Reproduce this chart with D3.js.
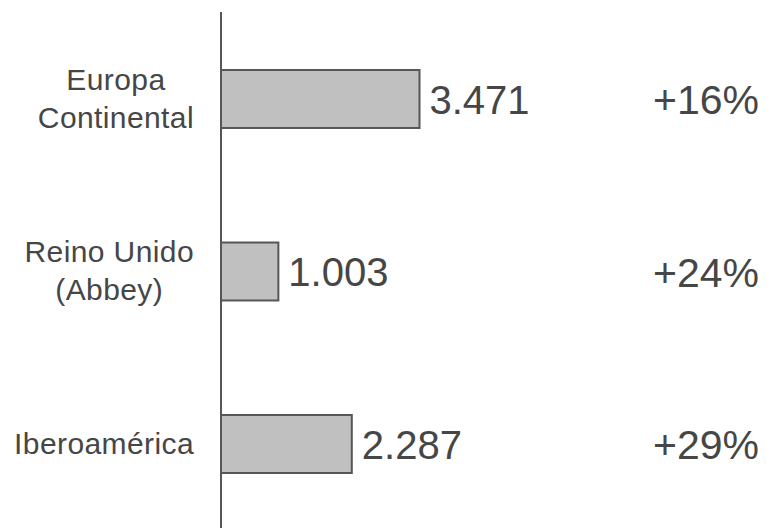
<!DOCTYPE html>
<html>
<head>
<meta charset="utf-8">
<script src="https://cdn.jsdelivr.net/npm/d3@7"></script>
<style>
  html, body { margin: 0; padding: 0; background: #fff; }
  svg { display: block; }
  text { font-family: "Liberation Sans", Arial, sans-serif; fill: #464646; }
</style>
</head>
<body>
<svg id="chart" width="767" height="528"></svg>
<script>
// Regions (label lines), results in millions and year-on-year growth
const regions = [["Europa", "Continental"], ["Reino Unido", "(Abbey)"], ["Iberoamérica"]];
const results = [3471, 1003, 2287];
const growth = [16, 24, 29];

const svg = d3.select("#chart");
const W = 767, H = 528;

const esLocale = d3.formatLocale({ decimal: ",", thousands: ".", grouping: [3], currency: ["", "€"] });
const fmtValue = esLocale.format(",d");
const fmtGrowth = d => d3.format("+d")(d) + "%";

const x = d3.scaleLinear().domain([0, 3471]).range([221, 419.5]);
const y = d3.scaleBand()
  .domain(d3.range(regions.length))
  .range([12.75, 530.25])
  .paddingInner(0.664)
  .paddingOuter(0.332);

// Bars
svg.append("g").selectAll("rect")
  .data(results)
  .join("rect")
  .attr("x", x(0))
  .attr("y", (d, i) => y(i))
  .attr("width", d => x(d) - x(0))
  .attr("height", y.bandwidth())
  .attr("fill", "#c0c0c0")
  .attr("stroke", "#565656")
  .attr("stroke-width", 2);

// Vertical baseline
svg.append("line")
  .attr("x1", x(0)).attr("x2", x(0))
  .attr("y1", 12).attr("y2", H)
  .attr("stroke", "#565656")
  .attr("stroke-width", 2);

// Value labels at bar ends
svg.append("g").selectAll("text")
  .data(results)
  .join("text")
  .attr("x", d => x(d) + 10)
  .attr("y", (d, i) => y(i) + y.bandwidth() / 2 + 14.5)
  .attr("font-size", 40)
  .text(d => fmtValue(d));

// Growth labels
svg.append("g").selectAll("text")
  .data(growth)
  .join("text")
  .attr("x", 653)
  .attr("y", (d, i) => y(i) + y.bandwidth() / 2 + 15)
  .attr("font-size", 41)
  .text(d => fmtGrowth(d));

// Category labels: block right-aligned, lines centred within block
const lineH = 38;
const labelRight = 194;
const cats = svg.append("g").selectAll("text")
  .data(regions)
  .join("text")
  .attr("font-size", 30)
  .attr("letter-spacing", 0.4)
  .attr("text-anchor", "middle");

cats.each(function (lines, i) {
  const t = d3.select(this);
  const cy = y(i) + y.bandwidth() / 2;
  const first = cy - (lines.length - 1) * lineH / 2 + 9.5;
  lines.forEach((ln, k) => {
    t.append("tspan").attr("y", first + k * lineH).text(ln);
  });
  const maxW = d3.max(t.selectAll("tspan").nodes(), n => n.getComputedTextLength());
  t.selectAll("tspan").attr("x", labelRight - maxW / 2);
});
</script>
</body>
</html>
